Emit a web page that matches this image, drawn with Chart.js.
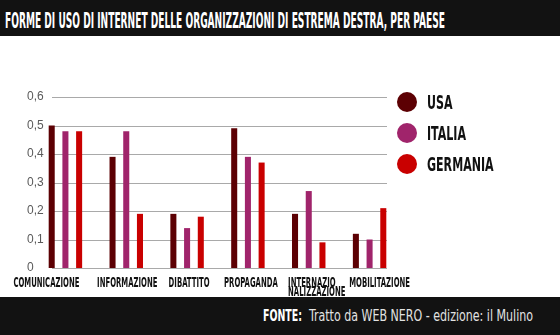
<!DOCTYPE html>
<html>
<head>
<meta charset="utf-8">
<script src="https://cdn.jsdelivr.net/npm/chart.js@4"></script>
<style>
  html, body { margin: 0; padding: 0; background: #fff; }
  #wrap { position: relative; width: 560px; height: 335px; overflow: hidden; background: #fff; }
  #chart { position: absolute; left: 0; top: 0; }
  .cond { font-family: "Liberation Sans Narrow", "DejaVu Sans Condensed", "Liberation Sans", Arial, sans-serif; font-weight: bold; white-space: nowrap; display: inline-block; transform-origin: 0 50%; }
  #titlebar { position: absolute; left: 0; top: 0; width: 560px; height: 36px; background: #121212; }
  #title { position: absolute; left: 5px; top: 10px; font-size: 22px; line-height: 22px; color: #fff; }
  #footer { position: absolute; left: 0; top: 297px; width: 560px; height: 38px; background: #121212; }
  #fonte { position: absolute; left: 263px; top: 11px; font-size: 16px; line-height: 16px; color: #fff; }
  #fonteText { position: absolute; left: 309px; top: 11px; font-size: 16px; line-height: 16px; color: #e2e2e2; font-weight: normal; }
  #legend { position: absolute; left: 397px; top: 92px; }
  .litem { position: relative; height: 20px; margin-bottom: 11px; }
  .ldot { position: absolute; left: 0; top: 0; width: 20px; height: 20px; border-radius: 50%; }
  .ltext { position: absolute; left: 30px; top: 0; font-size: 20px; line-height: 20px; color: #111; }
</style>
</head>
<body>
<div id="wrap">
  <canvas id="chart" width="560" height="335"></canvas>
  <div id="titlebar"><span id="title" class="cond">FORME DI USO DI INTERNET DELLE ORGANIZZAZIONI DI ESTREMA DESTRA, PER PAESE</span></div>
  <div id="legend"></div>
  <div id="footer"><span id="fonte" class="cond">FONTE:</span><span id="fonteText" class="cond">Tratto da WEB NERO - edizione: il Mulino</span></div>
</div>
<script>
// ---- data ----
const categories = ['COMUNICAZIONE', 'INFORMAZIONE', 'DIBATTITO', 'PROPAGANDA', ['INTERNAZIO', 'NALIZZAZIONE'], 'MOBILITAZIONE'];
const seriesNames = ['USA', 'ITALIA', 'GERMANIA'];
const usa      = [0.50, 0.39, 0.19, 0.49, 0.19, 0.12];
const italia   = [0.48, 0.48, 0.14, 0.39, 0.27, 0.10];
const germania = [0.48, 0.19, 0.18, 0.37, 0.09, 0.21];
const yTicks = [0, 0.1, 0.2, 0.3, 0.4, 0.5, 0.6];

const colors = ['#5c0003', '#a0246b', '#c90000'];
const condFont = '"Liberation Sans Narrow", "DejaVu Sans Condensed", "Liberation Sans", Arial, sans-serif';

// gridlines drawn at the y scale's tick positions, over a shorter span
const gridPlugin = {
  id: 'shortGrid',
  beforeDatasetsDraw(chart) {
    const { ctx, chartArea } = chart;
    const y = chart.scales.y;
    ctx.save();
    ctx.strokeStyle = '#a9a9a9';
    ctx.lineWidth = 1;
    y.ticks.forEach(t => {
      const py = Math.round(y.getPixelForValue(t.value)) + 0.5;
      ctx.beginPath();
      ctx.moveTo(chartArea.left + 17, py);
      ctx.lineTo(chartArea.right - 13, py);
      ctx.stroke();
    });
    ctx.restore();
  }
};

// condensed category labels under the x scale
const xLabelPlugin = {
  id: 'xLabels',
  afterDraw(chart, args, opts) {
    const { ctx, chartArea } = chart;
    const x = chart.scales.x;
    const shifts = opts.shifts || [];
    ctx.save();
    ctx.font = 'bold 14px ' + condFont;
    ctx.fillStyle = '#111';
    ctx.textBaseline = 'alphabetic';
    ctx.textAlign = 'left';
    const sx = 66 / ctx.measureText('COMUNICAZIONE').width;
    chart.data.labels.forEach((lab, i) => {
      const lines = Array.isArray(lab) ? lab : [lab];
      const cx = x.getPixelForValue(i) + (shifts[i] || 0);
      const maxW = Math.max(...lines.map(l => ctx.measureText(l).width)) * sx;
      lines.forEach((l, k) => {
        ctx.save();
        ctx.translate(cx - maxW / 2, chartArea.bottom + 18.5 + k * 9.5);
        ctx.scale(sx, 1);
        ctx.fillText(l, 0, 0);
        ctx.restore();
      });
    });
    ctx.restore();
  }
};

const chart = new Chart(document.getElementById('chart'), {
  type: 'bar',
  data: {
    labels: categories,
    datasets: [
      { label: seriesNames[0], data: usa, backgroundColor: colors[0] },
      { label: seriesNames[1], data: italia, backgroundColor: colors[1] },
      { label: seriesNames[2], data: germania, backgroundColor: colors[2] }
    ]
  },
  options: {
    responsive: false,
    animation: false,
    devicePixelRatio: 1,
    layout: { padding: { left: 27, right: 160, top: 97, bottom: 67 } },
    datasets: { bar: { categoryPercentage: 0.676, barPercentage: 0.44 } },
    plugins: {
      legend: { display: false },
      tooltip: { enabled: false },
      xLabels: { shifts: [-19, 1, 2, 3, 8, 10] }
    },
    scales: {
      x: { display: false },
      y: {
        min: 0, max: 0.6,
        afterBuildTicks(scale) { scale.ticks = yTicks.map(v => ({ value: v })); },
        afterFit(scale) { scale.width = 8; },
        grid: { display: false, drawTicks: false },
        border: { display: false },
        ticks: {
          mirror: true,
          crossAlign: 'near',
          padding: -8,
          color: '#5a5a5a',
          font: { family: '"Liberation Sans", Arial, sans-serif', size: 12 },
          callback: v => v === 0 ? '0' : Number(v).toFixed(1).replace('.', ',')
        }
      }
    }
  },
  plugins: [gridPlugin, xLabelPlugin]
});

// HTML legend from the chart's own legend items
const legendEl = document.getElementById('legend');
Chart.defaults.plugins.legend.labels.generateLabels(chart).forEach(item => {
  const row = document.createElement('div');
  row.className = 'litem';
  const dot = document.createElement('div');
  dot.className = 'ldot';
  dot.style.background = item.fillStyle;
  const txt = document.createElement('span');
  txt.className = 'ltext cond';
  txt.textContent = item.text;
  row.appendChild(dot); row.appendChild(txt);
  legendEl.appendChild(row);
});

// condense text to match the reference widths
function fit(el, target) {
  el.style.transform = 'none';
  const w = el.getBoundingClientRect().width;
  if (w > 0) el.style.transform = 'scaleX(' + (target / w) + ')';
}
fit(document.getElementById('title'), 440);
fit(document.getElementById('fonte'), 39);
fit(document.getElementById('fonteText'), 224);
const ltexts = Array.from(document.querySelectorAll('.ltext'));
const gw = ltexts[2].getBoundingClientRect().width;
const ls = 66.6 / gw;
ltexts.forEach(t => t.style.transform = 'scaleX(' + ls + ')');
</script>
</body>
</html>
